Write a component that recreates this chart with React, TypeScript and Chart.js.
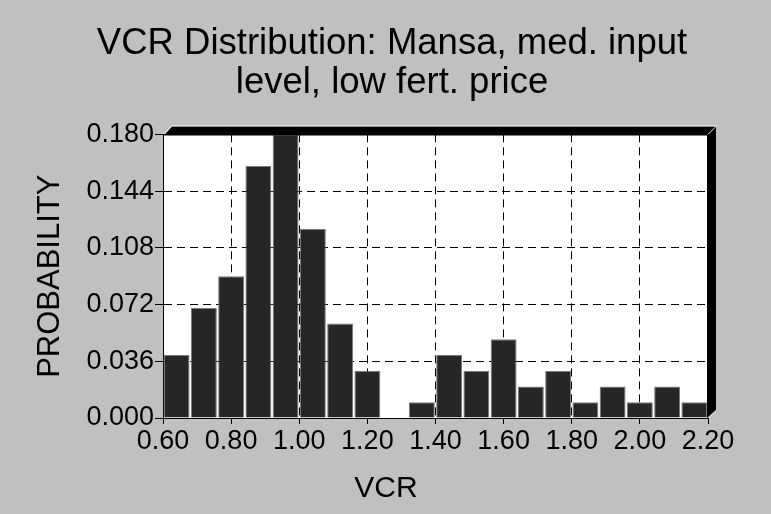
import React, { useEffect, useRef } from 'react';
import { Chart, registerables } from 'chart.js';

Chart.register(...registerables);

const titleLines = ['VCR Distribution: Mansa, med. input', 'level, low fert. price'];
const xAxisTitle = 'VCR';
const yAxisTitle = 'PROBABILITY';
const binCenters = [0.64, 0.72, 0.8, 0.88, 0.96, 1.04, 1.12, 1.2, 1.28, 1.36, 1.44, 1.52, 1.6, 1.68, 1.76, 1.84, 1.92, 2.0, 2.08, 2.16];
const probabilities = [0.04, 0.07, 0.09, 0.16, 0.18, 0.12, 0.06, 0.03, 0.0, 0.01, 0.04, 0.03, 0.05, 0.02, 0.03, 0.01, 0.02, 0.01, 0.02, 0.01];
const xTickValues = [0.6, 0.8, 1.0, 1.2, 1.4, 1.6, 1.8, 2.0, 2.2];
const yTickValues = [0, 0.036, 0.072, 0.108, 0.144, 0.18];

const FONT = "'Liberation Sans', Arial, Helvetica, sans-serif";

const framePlugin = {
  id: 'frame3d',
  beforeDraw(chart: any) {
    const { ctx, width, height, chartArea: a } = chart;
    ctx.save();
    ctx.fillStyle = '#c0c0c0';
    ctx.fillRect(0, 0, width, height);
    ctx.fillStyle = '#ffffff';
    ctx.fillRect(a.left, a.top, a.right - a.left, a.bottom - a.top);
    ctx.restore();
  },
  afterDraw(chart: any) {
    const { ctx, chartArea: a, width } = chart;
    const d = 8;
    ctx.save();
    ctx.fillStyle = '#000000';
    ctx.beginPath();
    ctx.moveTo(a.left + 1, a.top + 1);
    ctx.lineTo(a.left + 1 + d, a.top - d);
    ctx.lineTo(a.right + d, a.top - d);
    ctx.lineTo(a.right + d, a.bottom - d);
    ctx.lineTo(a.right - 1, a.bottom);
    ctx.lineTo(a.right - 1, a.top + 1);
    ctx.closePath();
    ctx.fill();
    ctx.strokeStyle = '#eeeeee';
    ctx.lineWidth = 1;
    ctx.beginPath();
    ctx.moveTo(a.left + 1, a.top - 0.5);
    ctx.lineTo(a.left + 1 + d, a.top - d - 0.5);
    ctx.lineTo(a.right + d + 0.5, a.top - d - 0.5);
    ctx.stroke();
    ctx.beginPath();
    ctx.moveTo(a.right, a.top);
    ctx.lineTo(a.right + d, a.top - d);
    ctx.stroke();
    ctx.strokeStyle = '#d8d8d8';
    ctx.beginPath();
    ctx.moveTo(a.right + 0.5, a.bottom);
    ctx.lineTo(a.right + d + 0.5, a.bottom - d);
    ctx.stroke();
    ctx.fillStyle = '#000000';
    ctx.font = `30px ${FONT}`;
    ctx.textAlign = 'center';
    ctx.textBaseline = 'alphabetic';
    ctx.fillText(xAxisTitle, width / 2 + 0.5, a.bottom + 79);
    ctx.restore();
  },
};

export default function App() {
  const canvasRef = useRef<HTMLCanvasElement | null>(null);

  useEffect(() => {
    const canvas = canvasRef.current;
    if (!canvas) return;
    const chart = new Chart(canvas, {
      type: 'bar',
      data: {
        datasets: [
          {
            label: 'Probability',
            data: binCenters.map((x, i) => ({ x, y: probabilities[i] })),
            backgroundColor: '#262626',
            borderColor: '#7a7a7a',
            borderWidth: 1,
            barPercentage: 0.95,
            categoryPercentage: 1,
          },
        ],
      },
      options: {
        responsive: false,
        animation: false,
        devicePixelRatio: 1,
        layout: { padding: { left: 13, right: 0, top: 0, bottom: 0 } },
        plugins: {
          legend: { display: false },
          tooltip: { enabled: false },
          title: {
            display: true,
            text: titleLines,
            color: '#000000',
            font: { family: FONT, size: 36.5, weight: 'normal', lineHeight: 1.06 },
            padding: { top: 25, bottom: 32 },
          },
        },
        scales: {
          x: {
            type: 'linear',
            min: 0.6,
            max: 2.2,
            offset: false,
            z: 1,
            afterBuildTicks: (s: any) => {
              s.ticks = xTickValues.map((v) => ({ value: v }));
            },
            afterFit: (s: any) => {
              s.height = 96;
            },
            ticks: {
              color: '#000000',
              font: { family: FONT, size: 27 },
              padding: 1,
              maxRotation: 0,
              autoSkip: false,
              callback: (v: any) => Number(v).toFixed(2),
            },
            grid: {
              offset: false,
              color: '#000000',
              lineWidth: 1,
              drawTicks: true,
              tickLength: 6,
              tickColor: '#000000',
              tickBorderDash: [],
            },
            border: { display: true, color: '#000000', width: 1, dash: [8, 5] },
          },
          y: {
            type: 'linear',
            position: 'left',
            min: 0,
            max: 0.18,
            z: 1,
            afterBuildTicks: (s: any) => {
              s.ticks = yTickValues.map((v) => ({ value: v }));
            },
            afterFit: (s: any) => {
              s.width = 150;
            },
            ticks: {
              color: '#000000',
              font: { family: FONT, size: 27 },
              padding: 1,
              autoSkip: false,
              callback: (v: any) => Number(v).toFixed(3),
            },
            grid: {
              color: '#000000',
              lineWidth: 1,
              drawTicks: true,
              tickLength: 8,
              tickColor: '#000000',
              tickBorderDash: [],
            },
            border: { display: true, color: '#000000', width: 1, dash: [8, 5] },
            title: {
              display: true,
              text: yAxisTitle,
              color: '#000000',
              font: { family: FONT, size: 31 },
              padding: { top: 19, bottom: 0 },
            },
          },
          yRight: {
            type: 'linear',
            position: 'right',
            display: true,
            afterFit: (s: any) => {
              s.width = 63;
            },
            ticks: { display: false },
            grid: { display: false, drawTicks: false },
            border: { display: false },
          },
        },
      },
      plugins: [framePlugin],
    } as any);
    return () => chart.destroy();
  }, []);

  return (
    <div style={{ position: 'fixed', left: 0, top: 0, width: 771, height: 514 }}>
      <canvas ref={canvasRef} width={771} height={514} style={{ display: 'block' }} />
    </div>
  );
}
